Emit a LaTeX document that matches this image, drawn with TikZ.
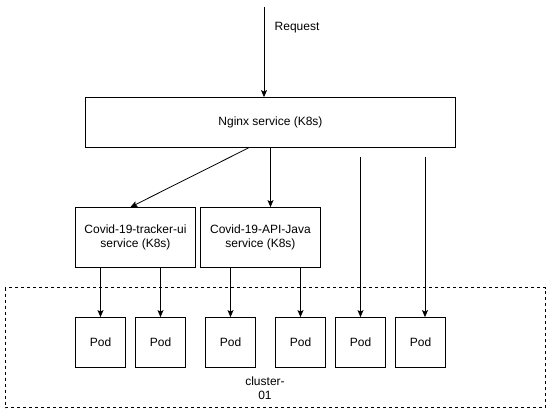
\documentclass[tikz,border=0pt]{standalone}
\usepackage{fontspec}
\setmainfont{Liberation Sans}
\usetikzlibrary{arrows.meta}

\begin{document}
\begin{tikzpicture}[x=1pt,y=-1pt,line width=0.8pt,font=\fontsize{12}{14}\selectfont,
    box/.style={draw,fill=white,align=center,inner sep=0pt},
    pod/.style={box,minimum width=50pt,minimum height=50pt},
    link/.style={-{Stealth[length=7pt,width=6pt,inset=1.5pt]}}]
    \useasboundingbox (0,0) rectangle (558,420);
    \draw[dash pattern=on 3pt off 3pt] (5,287.5) rectangle (545.5,407.5);
    \node[align=center] (cluster) at (265,388) {cluster-\\01};
    \node[box,minimum width=370pt,minimum height=50pt] (nginx) at (270.5,122.5) {Nginx service (K8s)};
    \node[box,minimum width=120pt,minimum height=60pt] (ui) at (135.5,237.5) {Covid-19-tracker-ui\\service (K8s)};
    \node[box,minimum width=120pt,minimum height=60pt] (api) at (260.5,237.5) {Covid-19-API-Java\\service (K8s)};
    \foreach \i/\x in {1/100.5,2/160.5,3/230.5,4/300.5,5/360.5,6/420.5}
      \node[pod] (p\i) at (\x,342.5) {Pod};
    % request into nginx
    \coordinate (req) at (264,7);
    \draw[link] (req) -- (req |- nginx.north);
    \node[anchor=west] (reqlabel) at (271,28) {Request};
    % nginx to the services
    \draw[link] ([xshift=-22pt]nginx.south) -- ([xshift=-5pt]ui.north);
    \draw[link] (nginx.south) -- (nginx.south |- api.north);
    % services to pods
    \draw[link] (p1.north |- ui.south) -- (p1.north);
    \draw[link] (p2.north |- ui.south) -- (p2.north);
    \draw[link] (p3.north |- api.south) -- (p3.north);
    \draw[link] (p4.north |- api.south) -- (p4.north);
    % loose routes to the last pods
    \coordinate (r5) at (360.5,157);
    \coordinate (r6) at (425,157);
    \draw[link] (r5) -- (r5 |- p5.north);
    \draw[link] (r6) -- (r6 |- p6.north);
\end{tikzpicture}
\end{document}
